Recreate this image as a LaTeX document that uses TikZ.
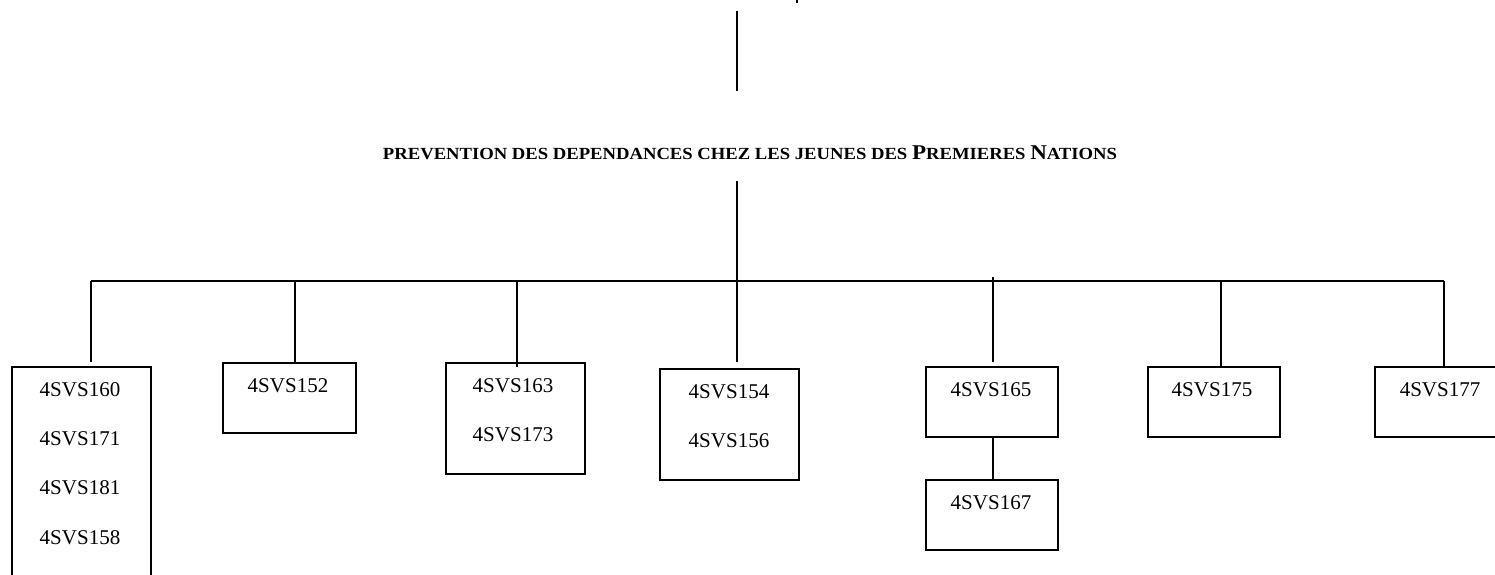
\documentclass[tikz,border=0pt]{standalone}
\usepackage{fontspec}
\setmainfont{Liberation Serif}
\usepackage{graphicx}
\begin{document}
\begin{tikzpicture}[x=0.5pt,y=-0.5pt,line width=1pt,
  box/.style 2 args={draw,line width=1pt,inner sep=0pt,anchor=north west,minimum width=#1*0.5pt,minimum height=#2*0.5pt},
  lbl/.style={font=\fontsize{10.5}{12}\selectfont,anchor=base,inner sep=0pt},
  conn/.style={draw,line width=1pt}]
\useasboundingbox (0,0) rectangle (1495,574);
\clip (0,0) rectangle (1495,574);
% boxes
\node[box={139}{260}] (b1) at (11,366) {};
\node[box={133}{70}] (b2) at (222,362) {};
\node[box={139}{111}] (b3) at (445,362) {};
\node[box={139}{111}] (b4) at (659,368) {};
\node[box={132}{70}] (b5) at (925,366) {};
\node[box={132}{70}] (b6) at (925,479) {};
\node[box={132}{70}] (b7) at (1147,366) {};
\node[box={132}{70}] (b8) at (1374,366) {};
% labels
\node[lbl] (t1a) at (80,396) {4SVS160};
\node[lbl] (t1b) at (80,445) {4SVS171};
\node[lbl] (t1c) at (80,494) {4SVS181};
\node[lbl] (t1d) at (80,544) {4SVS158};
\node[lbl] (t2) at (288,392) {4SVS152};
\node[lbl] (t3a) at (513,392) {4SVS163};
\node[lbl] (t3b) at (513,441) {4SVS173};
\node[lbl] (t4a) at (729,398) {4SVS154};
\node[lbl] (t4b) at (729,447) {4SVS156};
\node[lbl] (t5) at (991,396) {4SVS165};
\node[lbl] (t6) at (991,509) {4SVS167};
\node[lbl] (t7) at (1212,396) {4SVS175};
\node[lbl] (t8) at (1440,396) {4SVS177};
% title
\node[anchor=base,inner sep=0pt] (title) at (750,159) {\resizebox{367pt}{\height}{\bfseries\fontsize{8.5}{10}\selectfont PREVENTION DES DEPENDANCES CHEZ LES JEUNES DES {\fontsize{10.5}{12}\selectfont P}REMIERES {\fontsize{10.5}{12}\selectfont N}ATIONS}};
% top stub
\coordinate (topA) at (737,11);
\coordinate (topB) at (737,91);
\draw[conn] (topA) -- (topB);
\coordinate (mA) at (797,0);
\coordinate (mB) at (797,3);
\draw[conn] (mA) -- (mB);
% trunk and bus
\coordinate (trunk) at (737,181);
\coordinate (trunkEnd) at (737,362);
\draw[conn] (trunk) -- (trunkEnd);
\coordinate (busL) at (91,281);
\coordinate (busR) at (1444,281);
\draw[conn] (busL) -- (busR);
% drops
\coordinate (d1) at (91,281);
\coordinate (d2) at (295,281);
\coordinate (d3) at (517,281);
\coordinate (d5) at (993,277);
\coordinate (d7) at (1221,281);
\coordinate (d8) at (1444,281);
\coordinate (e1) at (91,362);
\coordinate (e3) at (517,367);
\coordinate (e5) at (993,362);
\draw[conn] (d1) -- (e1);
\draw[conn] (d2) -- (d2 |- b2.north);
\draw[conn] (d3) -- (e3);
\draw[conn] (d5) -- (e5);
\draw[conn] (d7) -- (d7 |- b7.north);
\draw[conn] (d8) -- (d8 |- b8.north);
\draw[conn] (b5.south -| d5) -- (d5 |- b6.north);
\end{tikzpicture}
\end{document}
